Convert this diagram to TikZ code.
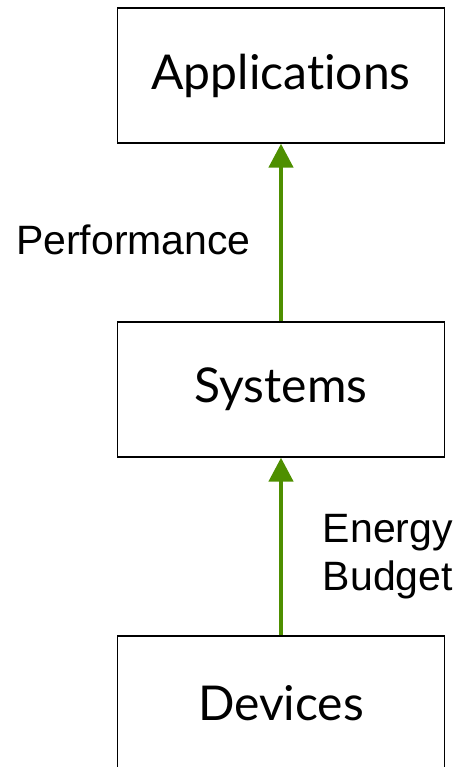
\documentclass[tikz,border=0pt]{standalone}
\usepackage{fontspec}
\setmainfont{Liberation Sans}
\newfontfamily\boxfont[Ligatures=NoCommon]{Lato}
\usetikzlibrary{arrows.meta}
\definecolor{arrowgreen}{RGB}{78,143,0}
\tikzset{
  layer/.style={draw=black, line width=1.3pt, minimum width=327pt, minimum height=135pt, inner sep=0pt,
    font=\boxfont\fontsize{48}{58}\selectfont},
  flow/.style={draw=arrowgreen, line width=4.5pt, -{Triangle[width=24pt,length=24pt]}},
  lbl/.style={inner sep=0pt, font=\fontsize{41}{48}\selectfont}
}
\begin{document}
\begin{tikzpicture}[x=1pt,y=-1pt]
  \useasboundingbox (0,0) rectangle (460,767);
  \begin{scope}
    \clip (0,0) rectangle (460,767);
    \node[layer] (app) at (281,75.5) {Applications};
    \node[layer] (sys) at (281,389.5) {Systems};
    \node[layer] (dev) at (281,703.5) {Devices};
    \draw[flow] (sys.north) -- (app.south);
    \draw[flow] (dev.north) -- (sys.south);
  \end{scope}
  \node[lbl, anchor=base east] (perf) at (251,254) {Performance};
  \node[lbl, anchor=base east, align=right] (energy) at (453,590) {Energy\\Budget};
\end{tikzpicture}
\end{document}
